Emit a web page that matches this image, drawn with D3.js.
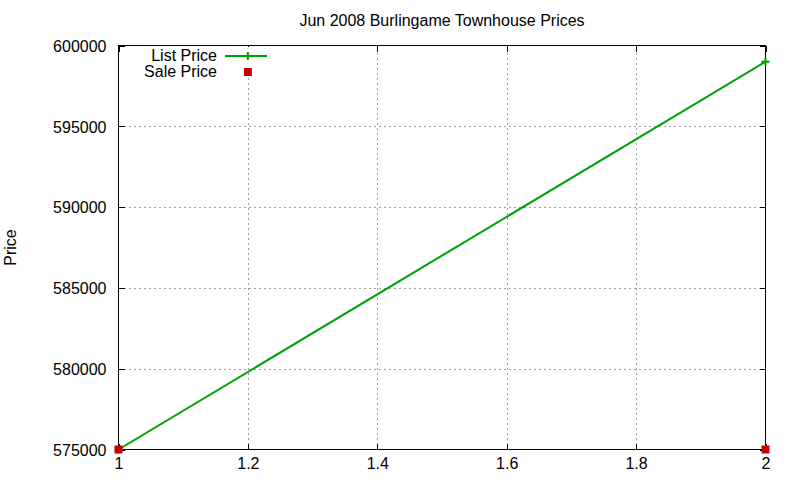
<!DOCTYPE html>
<html>
<head>
<meta charset="utf-8">
<script src="https://cdn.jsdelivr.net/npm/d3@7"></script>
<style>
  body { margin: 0; background: #fff; }
  text { font-family: "Liberation Sans", Arial, sans-serif; font-size: 16px; fill: #000; }
</style>
</head>
<body>
<div id="chart"></div>
<script>
const title = "Jun 2008 Burlingame Townhouse Prices";
const yLabel = "Price";

const listX = [1, 2];
const listY = [575000, 599000];
const saleX = [1, 2];
const saleY = [575000, 575000];

const xTicks = [1, 1.2, 1.4, 1.6, 1.8, 2];
const yTicks = [575000, 580000, 585000, 590000, 595000, 600000];

const seriesNames = ["List Price", "Sale Price"];
const listColor = "#00a000";
const saleColor = "#cc0000";

const w = 800;
const h = 480;
const margin = { top: 45.5, right: 34.5, bottom: 30.5, left: 118.5 };

const x = d3.scaleLinear().domain([1, 2]).range([margin.left, w - margin.right]);
const y = d3.scaleLinear().domain([575000, 600000]).range([h - margin.bottom, margin.top]);

const svg = d3.select("#chart").append("svg")
  .attr("width", w)
  .attr("height", h);

// grid
const grid = svg.append("g")
  .attr("stroke", "#a0a0a0")
  .attr("stroke-width", 1)
  .attr("stroke-dasharray", "2,3")
  .attr("shape-rendering", "crispEdges");

grid.selectAll("line.gx")
  .data(xTicks.slice(1, -1))
  .enter().append("line")
  .attr("x1", d => Math.round(x(d)) + 0.5).attr("x2", d => Math.round(x(d)) + 0.5)
  .attr("y1", y.range()[0]).attr("y2", y.range()[1]);

grid.selectAll("line.gy")
  .data(yTicks.slice(1, -1))
  .enter().append("line")
  .attr("y1", d => Math.round(y(d)) + 0.5).attr("y2", d => Math.round(y(d)) + 0.5)
  .attr("x1", x.range()[0]).attr("x2", x.range()[1]);

// axes with inward ticks, mirrored
const axisBottom = d3.axisBottom(x).tickValues(xTicks).tickSizeInner(-6).tickSizeOuter(0).tickPadding(8).tickFormat(d3.format("~g"));
const axisTop = d3.axisTop(x).tickValues(xTicks).tickSizeInner(-6).tickSizeOuter(0).tickFormat("");
const axisLeft = d3.axisLeft(y).tickValues(yTicks).tickSizeInner(-6).tickSizeOuter(0).tickPadding(12).tickFormat(d3.format("d"));
const axisRight = d3.axisRight(y).tickValues(yTicks).tickSizeInner(-6).tickSizeOuter(0).tickFormat("");

function styleAxis(g) {
  g.attr("font-size", null).attr("font-family", null);
  g.select(".domain").remove();
  g.selectAll(".tick line").attr("stroke", "#000").attr("shape-rendering", "crispEdges");
  g.selectAll(".tick text").attr("fill", "#000");
}

svg.append("g").attr("transform", `translate(0,${y.range()[0]})`).call(axisBottom).call(styleAxis);
svg.append("g").attr("transform", `translate(0,${y.range()[1]})`).call(axisTop).call(styleAxis);
svg.append("g").attr("transform", `translate(${x.range()[0]},0)`).call(axisLeft).call(styleAxis)
  .selectAll(".tick text").attr("dy", "0.36em");
svg.append("g").attr("transform", `translate(${x.range()[1]},0)`).call(axisRight).call(styleAxis);

// border
svg.append("rect")
  .attr("x", x.range()[0]).attr("y", y.range()[1])
  .attr("width", x.range()[1] - x.range()[0])
  .attr("height", y.range()[0] - y.range()[1])
  .attr("fill", "none").attr("stroke", "#000").attr("stroke-width", 1)
  .attr("shape-rendering", "crispEdges");

// list price line
const listData = listX.map((d, i) => [d, listY[i]]);
svg.append("path")
  .datum(listData)
  .attr("fill", "none")
  .attr("stroke", listColor)
  .attr("stroke-width", 2)
  .attr("d", d3.line().x(d => x(d[0])).y(d => y(d[1])));

function plus(g, cx, cy, color) {
  g.append("path")
    .attr("d", `M${cx - 4},${cy}H${cx + 4}M${cx},${cy - 4}V${cy + 4}`)
    .attr("stroke", color).attr("stroke-width", 2).attr("fill", "none");
}

listData.forEach(d => plus(svg, x(d[0]), y(d[1]), listColor));

// sale price points
const saleData = saleX.map((d, i) => [d, saleY[i]]);
svg.selectAll("rect.sale")
  .data(saleData)
  .enter().append("rect")
  .attr("class", "sale")
  .attr("x", d => x(d[0]) - 4).attr("y", d => y(d[1]) - 4)
  .attr("width", 8).attr("height", 8)
  .attr("fill", saleColor);

// legend
const legend = svg.append("g");
legend.append("rect")
  .attr("x", 140).attr("y", 47).attr("width", 132).attr("height", 31)
  .attr("fill", "#fff");
const lx = x(1.2);
const rows = [56, 71.5];
legend.selectAll("text")
  .data(seriesNames)
  .enter().append("text")
  .attr("x", 217)
  .attr("y", (d, i) => rows[i])
  .attr("dy", "0.34em")
  .attr("text-anchor", "end")
  .text(d => d);
legend.append("line")
  .attr("x1", 225).attr("x2", 267)
  .attr("y1", rows[0]).attr("y2", rows[0])
  .attr("stroke", listColor).attr("stroke-width", 2);
plus(legend, lx, rows[0], listColor);
legend.append("rect")
  .attr("x", lx - 4).attr("y", rows[1] - 3.5).attr("width", 8).attr("height", 8)
  .attr("fill", saleColor);

// title and y label
svg.append("text")
  .attr("x", (x.range()[0] + x.range()[1]) / 2)
  .attr("y", 26)
  .attr("text-anchor", "middle")
  .text(title);

svg.append("text")
  .attr("transform", `translate(16,${(y.range()[0] + y.range()[1]) / 2}) rotate(-90)`)
  .attr("text-anchor", "middle")
  .text(yLabel);
</script>
</body>
</html>
